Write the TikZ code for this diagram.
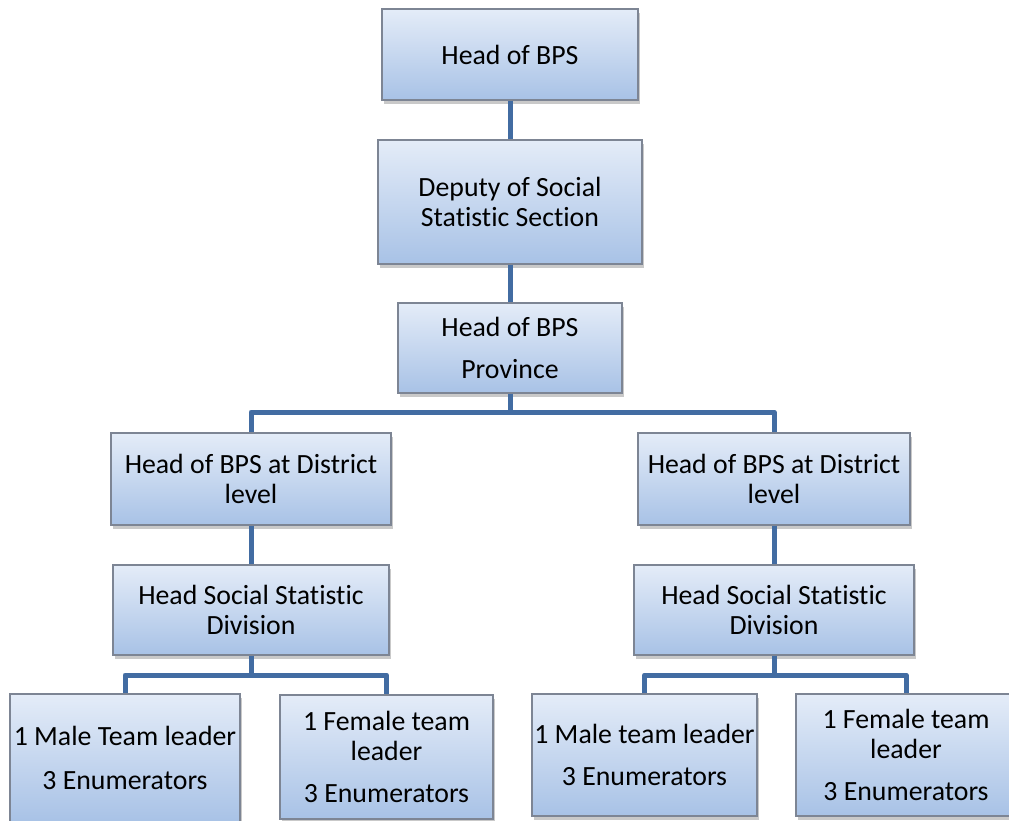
\documentclass[tikz,border=0pt]{standalone}
\usepackage{fontspec}
\setmainfont{Carlito}[Ligatures={NoCommon}]
\usepackage{tikz}
\usetikzlibrary{shadows}
\definecolor{boxtop}{RGB}{228,236,248}
\definecolor{boxbot}{RGB}{168,194,230}
\definecolor{boxline}{RGB}{125,133,148}
\definecolor{linkblue}{RGB}{66,108,162}

\begin{document}
\begin{tikzpicture}[x=0.5pt,y=-0.5pt,
    every node/.style={font=\fontsize{13.9}{15}\selectfont},
    unit/.style={draw=boxline,line width=0.6pt,top color=boxtop,bottom color=boxbot,
      align=center,inner sep=0pt,
      drop shadow={shadow xshift=1.2pt,shadow yshift=-1.8pt,opacity=0.3,fill=black!70}},
    link/.style={draw=linkblue,line width=2.5pt,line join=round}]
    \clip (0,0) rectangle (1009,821);
    % top of the chart
    \node[unit,minimum width=128pt,minimum height=45.5pt] (head) at (510,54.5) {Head of BPS};
    \node[unit,minimum width=132pt,minimum height=62pt] (deputy) at (510,202) {Deputy of Social\\Statistic Section};
    \node[unit,minimum width=112pt,minimum height=45pt] (prov) at (510,348) {Head of BPS\\[6pt]Province};
    % district level
    \node[unit,minimum width=140pt,minimum height=46pt] (distL) at (251,479) {Head of BPS at District\\level};
    \node[unit,minimum width=136pt,minimum height=46pt] (distR) at (774,479) {Head of BPS at District\\level};
    \node[unit,minimum width=138pt,minimum height=45pt] (divL) at (251,610) {Head Social Statistic\\Division};
    \node[unit,minimum width=140pt,minimum height=45pt] (divR) at (774,610) {Head Social Statistic\\Division};
    % teams
    \node[unit,minimum width=115pt,minimum height=64pt] (maleL) at (125,758) {1 Male Team leader\\[7pt]3 Enumerators};
    \node[unit,minimum width=106.5pt,minimum height=62pt] (femL) at (386.5,757) {1 Female team\\leader\\[6pt]3 Enumerators};
    \node[unit,minimum width=112.5pt,minimum height=61pt] (maleR) at (644.5,755) {1 Male team leader\\[6pt]3 Enumerators};
    \node[unit,minimum width=110pt,minimum height=61pt] (femR) at (906,755) {1 Female team\\leader\\[6pt]3 Enumerators};

    \coordinate (provbar) at (510,412);
    \coordinate (divLbar) at (251,675);
    \coordinate (divRbar) at (774,675);
    \draw[link] (head) -- (deputy);
    \draw[link] (deputy) -- (prov);
    \draw[link] (prov) -- (provbar) -| (distL);
    \draw[link] (provbar) -| (distR);
    \draw[link] (distL) -- (divL);
    \draw[link] (distR) -- (divR);
    \draw[link] (divL) -- (divLbar) -| (maleL);
    \draw[link] (divLbar) -| (femL);
    \draw[link] (divR) -- (divRbar) -| (maleR);
    \draw[link] (divRbar) -| (femR);
  \end{tikzpicture}
\end{document}
